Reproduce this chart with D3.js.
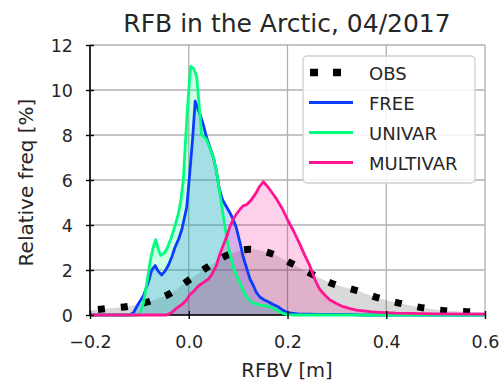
<!DOCTYPE html>
<html><head><meta charset="utf-8">
<script src="https://cdn.jsdelivr.net/npm/d3@7"></script>
<style>body{margin:0;background:#fff}svg{display:block}text{font-family:"DejaVu Sans",sans-serif;fill:#262626}</style>
</head><body><svg id="c" width="500" height="382"></svg>
<script>
const title = "RFB in the Arctic, 04/2017";
const xLabel = "RFBV [m]";
const yLabel = "Relative freq [%]";
const xTicks = [-0.2, 0.0, 0.2, 0.4, 0.6];
const yTicks = [0, 2, 4, 6, 8, 10, 12];
const seriesNames = ["OBS", "FREE", "UNIVAR", "MULTIVAR"];

const obsX = [-0.2,-0.17,-0.124,-0.08,-0.04,0.0,0.036,0.077,0.124,0.168,0.21,0.249,0.293,0.338,0.384,0.428,0.471,0.519,0.564,0.6];
const obsY = [0.2,0.28,0.38,0.6,0.93,1.55,2.1,2.65,2.92,2.72,2.27,1.82,1.38,1.1,0.76,0.52,0.33,0.19,0.15,0.12];

const freeX = [-0.2,-0.12,-0.112,-0.102,-0.092,-0.082,-0.075,-0.068,-0.062,-0.055,-0.048,-0.041,-0.034,-0.028,-0.02,-0.014,-0.008,-0.004,0.002,0.008,0.013,0.018,0.023,0.029,0.036,0.043,0.05,0.056,0.062,0.068,0.074,0.082,0.09,0.096,0.104,0.11,0.117,0.124,0.131,0.137,0.144,0.152,0.162,0.17,0.18,0.19,0.2,0.22,0.26,0.3,0.33,0.35,0.6];
const freeY = [0,0,0.1,0.5,0.85,1.45,2.0,2.2,1.95,1.78,1.95,2.22,2.6,3.0,3.4,3.8,4.4,4.8,6.3,7.9,9.5,9.2,8.9,8.5,7.9,7.45,7.0,6.4,5.6,5.15,4.9,4.6,4.25,3.9,3.2,2.6,2.1,1.6,1.3,1.0,0.8,0.68,0.58,0.48,0.38,0.22,0.1,0.05,0.03,0.03,0.02,0,0];

const univarX = [-0.2,-0.1,-0.092,-0.085,-0.078,-0.072,-0.067,-0.062,-0.057,-0.05,-0.044,-0.036,-0.028,-0.021,-0.016,-0.011,-0.004,0.001,0.004,0.01,0.016,0.02,0.026,0.032,0.036,0.043,0.05,0.056,0.06,0.065,0.07,0.075,0.08,0.085,0.09,0.097,0.104,0.11,0.117,0.124,0.131,0.147,0.164,0.178,0.191,0.2,0.22,0.6];
const univarY = [0,0,0.5,1.4,2.4,3.0,3.35,2.95,2.65,2.75,2.95,3.4,3.95,4.5,5.1,6.0,8.7,10.3,11.05,10.95,10.6,9.6,8.0,7.9,7.8,7.4,7.0,6.4,5.85,5.1,4.4,3.7,3.05,2.6,2.15,1.75,1.4,1.1,0.81,0.65,0.52,0.44,0.37,0.22,0.07,0.02,0,0];

const multiX = [-0.2,-0.045,-0.035,-0.025,-0.015,-0.005,0.002,0.01,0.02,0.03,0.04,0.048,0.056,0.063,0.07,0.077,0.083,0.09,0.097,0.104,0.11,0.117,0.124,0.131,0.137,0.143,0.151,0.16,0.17,0.178,0.19,0.201,0.213,0.225,0.235,0.245,0.255,0.265,0.275,0.286,0.3,0.313,0.327,0.34,0.367,0.387,0.42,0.5,0.6];
const multiY = [0,0,0.1,0.3,0.45,0.65,0.9,1.05,1.3,1.45,1.6,1.85,2.2,2.7,3.1,3.5,3.9,4.25,4.5,4.7,4.85,4.9,5.05,5.25,5.45,5.7,5.92,5.7,5.4,5.15,4.7,4.2,3.7,3.15,2.65,2.2,1.6,1.15,0.9,0.67,0.5,0.37,0.28,0.22,0.15,0.12,0.08,0.05,0.04];

const colors = {OBS:"#000000", FREE:"#0a3cff", UNIVAR:"#00ff7f", MULTIVAR:"#ff1493"};
const fills = {OBS:"rgba(0,0,0,0.15)", FREE:"rgba(10,60,255,0.2)", UNIVAR:"rgba(0,255,127,0.2)", MULTIVAR:"rgba(255,20,147,0.2)"};

const svg = d3.select("#c");
const L=90, R=485, T=45, B=315;
const x = d3.scaleLinear().domain([-0.2,0.6]).range([L,R]);
const y = d3.scaleLinear().domain([0,12]).range([B,T]);

// grid
const g = svg.append("g");
g.selectAll(".gx").data(xTicks).join("line").attr("x1",d=>x(d)).attr("x2",d=>x(d)).attr("y1",T).attr("y2",B).attr("stroke","#b0b0b0").attr("stroke-width",1.3);
g.selectAll(".gy").data(yTicks).join("line").attr("y1",d=>y(d)).attr("y2",d=>y(d)).attr("x1",L).attr("x2",R).attr("stroke","#b0b0b0").attr("stroke-width",1.3);

const series = [
  {name:"OBS", xs:obsX, ys:obsY},
  {name:"FREE", xs:freeX, ys:freeY},
  {name:"UNIVAR", xs:univarX, ys:univarY},
  {name:"MULTIVAR", xs:multiX, ys:multiY}
];
series.forEach(s=>{ s.pts = s.xs.map((v,i)=>[v,s.ys[i]]); });

svg.append("clipPath").attr("id","clip").append("rect").attr("x",L).attr("y",T-5).attr("width",R-L).attr("height",B-T+5);

const plot = svg.append("g").attr("clip-path","url(#clip)");
series.forEach(s=>{
  const curve = s.name==="OBS" ? d3.curveMonotoneX : d3.curveLinear;
  const area = d3.area().x(d=>x(d[0])).y0(y(0)).y1(d=>y(d[1])).curve(curve);
  plot.append("path").attr("d",area(s.pts)).attr("fill",fills[s.name]);
});

// spines
svg.append("line").attr("x1",L).attr("x2",L).attr("y1",T).attr("y2",B).attr("stroke","#000").attr("stroke-width",1.6);
svg.append("line").attr("x1",L).attr("x2",R).attr("y1",B).attr("y2",B).attr("stroke","#000").attr("stroke-width",1.6);

const lines = svg.append("g");
series.forEach(s=>{
  const curve = s.name==="OBS" ? d3.curveMonotoneX : d3.curveLinear;
  const line = d3.line().x(d=>x(d[0])).y(d=>y(d[1])).curve(curve);
  const p = lines.append("path").attr("d",line(s.pts)).attr("fill","none").attr("stroke",colors[s.name]);
  if(s.name==="OBS") p.attr("stroke-width",7).attr("stroke-dasharray","7,16").attr("stroke-dashoffset",-8);
  else p.attr("stroke-width",2.8).attr("stroke-linejoin","round");
});

// axes ticks
const xa = svg.append("g").attr("transform",`translate(0,${B})`).call(d3.axisBottom(x).tickValues(xTicks).tickFormat(d=>d3.format(".1f")(d).replace("-","\u2212")).tickSize(4).tickSizeOuter(0));
const ya = svg.append("g").attr("transform",`translate(${L},0)`).call(d3.axisLeft(y).tickValues(yTicks).tickFormat(d3.format("d")).tickSize(4).tickSizeOuter(0));
[xa,ya].forEach(a=>{ a.select(".domain").remove(); a.selectAll(".tick line").attr("stroke","#000").attr("stroke-width",1.4); a.selectAll("text").attr("font-family","DejaVu Sans").attr("fill","#262626"); });
xa.selectAll(".tick line").attr("y1",-4);
ya.selectAll(".tick line").attr("x1",4);
xa.selectAll("text").attr("font-size",17.5).attr("y",null).attr("dy",null).attr("transform","translate(0,33)");
ya.selectAll("text").attr("font-size",17.5).attr("x",-17).attr("dy","0.36em");

// labels
svg.append("text").attr("x",287).attr("y",32).attr("text-anchor","middle").attr("font-size",25).text(title);
svg.append("text").attr("x",287).attr("y",376.5).attr("text-anchor","middle").attr("font-size",19.5).text(xLabel);
svg.append("text").attr("transform","translate(33,182.5) rotate(-90)").attr("text-anchor","middle").attr("font-size",20).text(yLabel);

// legend
const lg = svg.append("g");
lg.append("rect").attr("x",303).attr("y",56).attr("width",172).attr("height",127).attr("rx",4).attr("fill","rgba(255,255,255,0.85)").attr("stroke","#d0d0d0").attr("stroke-width",1.3);
seriesNames.forEach((n,i)=>{
  const cy = 72.5 + i*30;
  const l = lg.append("line").attr("x1",309).attr("x2",353).attr("y1",cy).attr("y2",cy).attr("stroke",colors[n]);
  if(n==="OBS") l.attr("stroke-width",7.5).attr("x1",310).attr("x2",342).attr("stroke-dasharray","8,15");
  else l.attr("stroke-width",2.8);
  lg.append("text").attr("x",369).attr("y",cy+7).attr("font-size",18).text(n);
});
</script></body></html>
